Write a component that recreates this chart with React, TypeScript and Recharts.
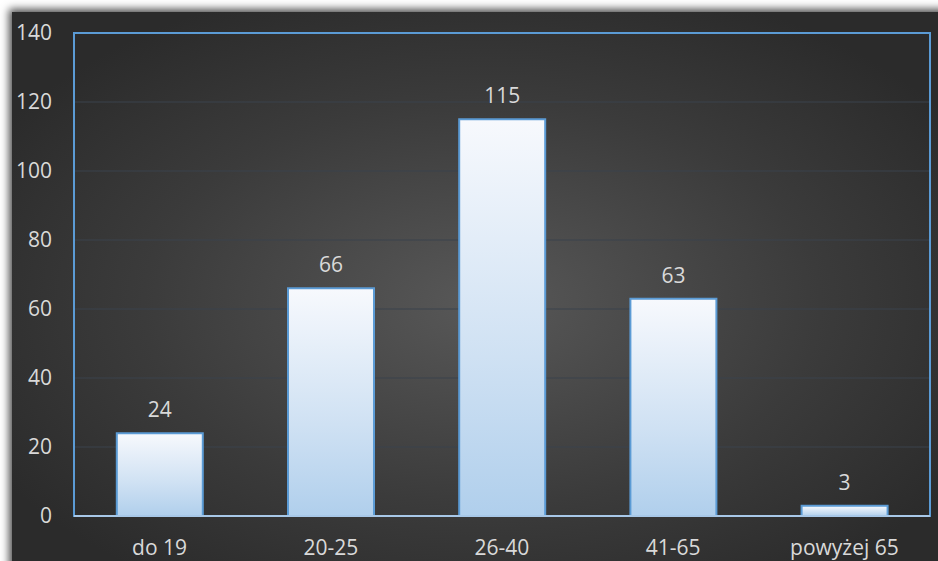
import React from "react";
import { BarChart, Bar, XAxis, YAxis, CartesianGrid, LabelList, ReferenceArea } from "recharts";

const categories = ["do 19", "20-25", "26-40", "41-65", "powyżej 65"];
const values = [24, 66, 115, 63, 3];
const yTicks = [0, 20, 40, 60, 80, 100, 120, 140];

const data = categories.map((c, i) => ({ name: c, value: values[i] }));

const font = "'Open Sans', 'Noto Sans', sans-serif";

export default function App() {
  return (
    <div style={{ position: "absolute", left: 0, top: 0, width: 938, height: 561, background: "#ffffff", overflow: "hidden" }}>
      <div
        style={{
          position: "absolute",
          left: 12,
          top: 12,
          width: 940,
          height: 560,
          background: "radial-gradient(ellipse 60% 60% at 50% 52%, #585858 0%, #3b3b3b 60%, #2b2b2b 100%)",
          boxShadow: "-3px -3px 8px rgba(0,0,0,0.7)",
        }}
      />
      <div style={{ position: "absolute", left: 0, top: 0 }}>
        <BarChart
          width={938}
          height={561}
          data={data}
          margin={{ top: 33, right: 8, bottom: 0, left: 14 }}
          barCategoryGap="25%"
        >
          <defs>
            <linearGradient id="barGrad" x1="0" y1="0" x2="0" y2="1">
              <stop offset="0%" stopColor="#f7f9fd" />
              <stop offset="60%" stopColor="#cfe1f3" />
              <stop offset="100%" stopColor="#b0cfec" />
            </linearGradient>
          </defs>
          <CartesianGrid vertical={false} stroke="#3a434d" strokeWidth={1} />
          <XAxis
            dataKey="name"
            height={45}
            tickLine={false}
            axisLine={{ stroke: "#a8c8e8", strokeWidth: 2 }}
            tick={{ fill: "#d9d9d9", fontSize: 21, fontFamily: font }}
            tickMargin={18}
          />
          <YAxis
            width={60}
            domain={[0, 140]}
            ticks={yTicks}
            tickLine={false}
            axisLine={false}
            tickMargin={16}
            tick={{ fill: "#d9d9d9", fontSize: 21, fontFamily: font }}
          />
          <ReferenceArea y1={0} y2={140} fill="none" stroke="#5b9bd5" strokeWidth={2} ifOverflow="visible" />
          <Bar dataKey="value" fill="url(#barGrad)" stroke="#5b9bd5" strokeWidth={2} isAnimationActive={false}>
            <LabelList dataKey="value" position="top" offset={16} fill="#d9d9d9" fontSize={21} fontFamily={font} />
          </Bar>
        </BarChart>
      </div>
    </div>
  );
}
